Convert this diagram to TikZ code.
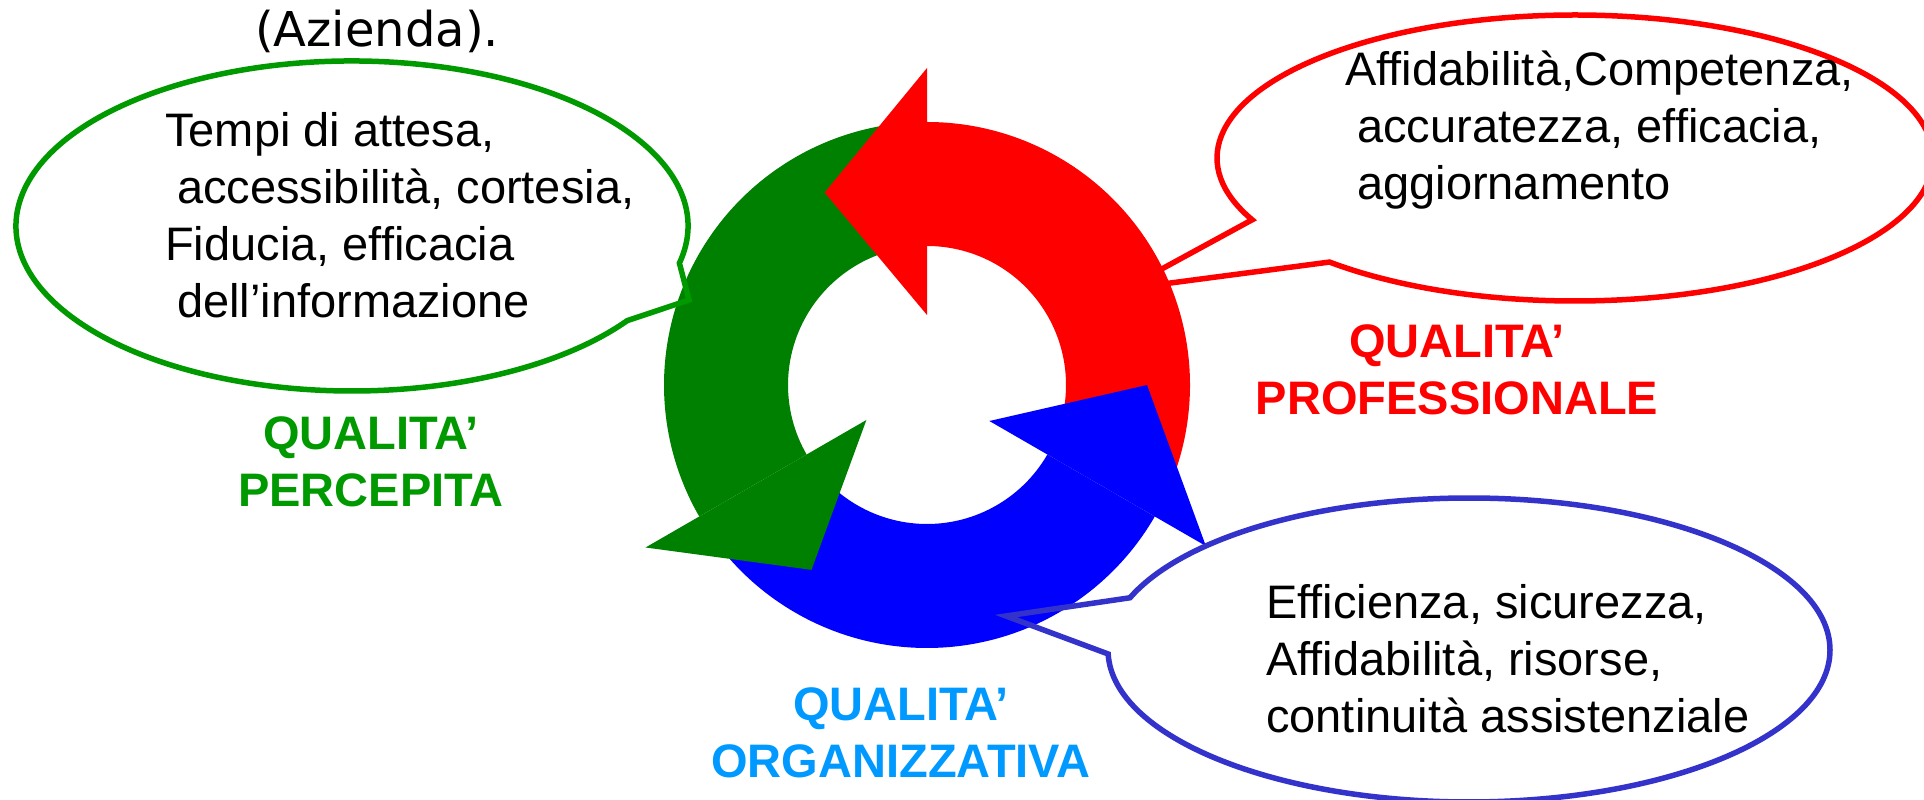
\documentclass[tikz,border=0pt]{standalone}
\usepackage{fontspec}
\setmainfont{Liberation Sans}
\newfontfamily\slidefont{DejaVu Sans}
\usepackage{xcolor}
\usetikzlibrary{calc}
\definecolor{ringgreen}{RGB}{0,128,0}
\definecolor{linegreen}{RGB}{0,153,0}
\definecolor{lineblue}{RGB}{51,51,204}
\definecolor{labelblue}{RGB}{0,153,255}
\tikzset{
	x=1pt, y=1pt,
	bubble/.style={draw=#1, line width=5.5pt, line join=miter},
	bubbletext/.style={inner sep=0pt, anchor=base west, align=left, font=\fontsize{47}{57}\selectfont},
	qlabel/.style={inner sep=0pt, anchor=base, align=center, text=#1, font=\fontsize{47}{57}\selectfont\bfseries}
}
\newcommand{\ind}{\hspace*{12pt}}

\begin{document}
\begin{tikzpicture}
	\useasboundingbox (0,0) rectangle (1924,800);
	
	% ring of three arrows
	\begin{scope}[shift={(927,415)}]
		\coordinate (rc) at (0,0);
		\fill[red] (-25:139) -- (-25:263) arc[start angle=-25, end angle=90, radius=263] -- (90:139) arc[start angle=90, end angle=-25, radius=139] -- cycle;
		\fill[ringgreen] (95:139) -- (95:263) arc[start angle=95, end angle=210, radius=263] -- (210:139) arc[start angle=210, end angle=95, radius=139] -- cycle;
		\fill[blue] (215:139) -- (215:263) arc[start angle=215, end angle=330, radius=263] -- (330:139) arc[start angle=330, end angle=215, radius=139] -- cycle;
		
		\fill[red] (90:70) -- (90:317) -- (118:218) -- cycle;
		\fill[ringgreen] (210:70) -- (210:325) -- (238:218) -- cycle;
		\fill[blue] (330:72) -- (330:322) -- (360:220) -- cycle;
	\end{scope}
	
	\coordinate (gc) at (352,574);
	\coordinate (rcc) at (1575,642);
	\coordinate (bc) at (1469,150);
	\coordinate (gtip) at (689,500);
	\coordinate (rtip) at (1125,511);
	\coordinate (btip) at (1006,184);
	
	% callouts
	\draw[bubble=linegreen] ($(gc)+(-13:336 and 165)$) arc[start angle=-13, end angle=325, x radius=336, y radius=165] -- (gtip) -- cycle;
	\draw[bubble=red] ($(rcc)+(226.7:358 and 143)$) arc[start angle=226.7, end angle=565.6, x radius=358, y radius=143] -- (rtip) -- cycle;
	\draw[bubble=lineblue] ($(bc)+(181.5:361 and 152)$) arc[start angle=181.5, end angle=519.9, x radius=361, y radius=152] -- (btip) -- cycle;
	
	\node[inner sep=0pt, anchor=base west, font=\slidefont\fontsize{48}{57}\selectfont] (azienda) at (255,753) {(Azienda).};
	
	% base of a node with several lines = baseline of its last line
	\node[bubbletext] (gtext) at (165,482) {Tempi di attesa,\\\ind accessibilità, cortesia,\\Fiducia, efficacia\\\ind dell’informazione};
	\node[bubbletext] (rtext) at (1345,600) {Affidabilità,Competenza,\\\ind accuratezza, efficacia,\\\ind aggiornamento};
	\node[bubbletext] (btext) at (1266,67) {Efficienza, sicurezza,\\Affidabilità, risorse,\\continuità assistenziale};
	
	\node[qlabel=linegreen] (glabel) at (371,293) {QUALITA’\\PERCEPITA};
	\node[qlabel=red] (rlabel) at (1457,385) {QUALITA’\\PROFESSIONALE};
	\node[qlabel=labelblue] (blabel) at (901,22) {QUALITA’\\ORGANIZZATIVA};
\end{tikzpicture}
\end{document}
